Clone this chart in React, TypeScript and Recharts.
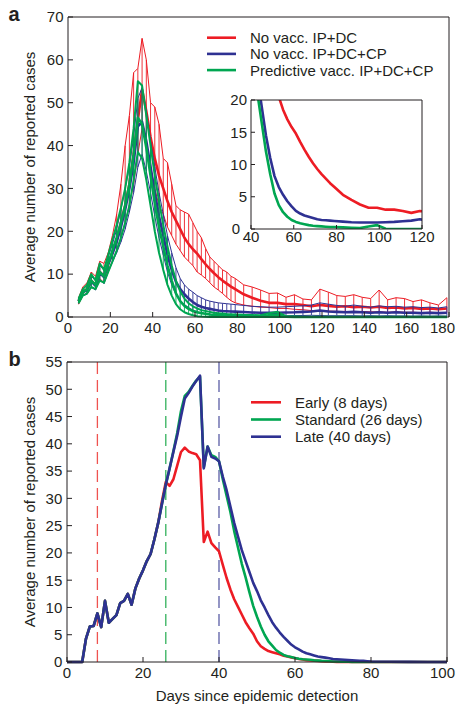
import React from 'react';
import { LineChart, Line, XAxis, YAxis, ErrorBar, ReferenceLine, Label, Legend, CartesianGrid } from 'recharts';

const FONT = '"Liberation Sans", Arial, Helvetica, sans-serif';
const INK = '#231f20';
const RED = '#ed1c24';
const BLUE = '#2e3192';
const GREEN = '#00a651';

// ---------- Panel a data ----------
const daysA = [5,7,9,11,13,15,17,19,21,23,25,27,29,31,33,35,37,39,41,43,45,47,49,51,53,55,57,59,61,63,65,67,69,71,73,75,77,79,83,87,91,95,99,103,107,111,115,119,123,127,131,135,139,143,147,151,155,159,163,167,171,175,179];

const redMean = [3.7,5.8,6.5,8.5,7.5,10.5,9.5,12.5,15,18,22,26,31,38,46,53,48,42,37,33,30,27,24.5,22.5,20.5,18.5,17,15.8,14.8,13.5,12.3,11.2,10.2,9.3,8.5,7.8,7.1,6.5,5.3,4.5,3.8,3.3,3.3,3.0,3.0,2.8,2.5,2.8,2.6,2.4,2.5,2.3,2.4,2.2,2.4,2.1,2.2,2.0,2.1,1.9,2.0,1.8,2.0];
const redHi = [4.5,7,8,10.5,9.5,13,12.5,15,19,24,31,40,47,57,58,65,60,50,49,45,37,36,31,26,25,24.5,24,22,20,18.5,16,14,13,12,11,10.5,9.5,9,7.5,7,6.3,5.5,5.6,4.6,5.2,4.2,4.0,6.5,5.8,5.0,4.8,5.2,4.6,4.3,6.3,4.0,4.5,4.3,3.6,4.0,3.3,2.8,4.5];
const redLo = [3.0,5,5.5,7,6.5,9,8,11,13,15.5,18.5,22,26,31,38,44,40,35,30,26,24,21,19,17,15.5,14,13,12,10.5,9.8,9,8,7,6.3,5.5,4.6,3.8,3.3,2.8,2.5,2.3,2.2,2.0,2.0,1.8,1.7,1.5,1.4,1.4,1.3,1.3,1.2,1.3,1.2,1.2,1.1,1.2,1.1,1.1,1.0,1.1,1.0,1.0];

const blueMean = [3.7,5.8,6.3,8.3,7.3,10.3,9.3,12.3,14.8,17.5,21,25,30,36,44.5,45.5,41,35,29,23.5,19,14.5,11,8.2,6.5,5.3,4.3,3.5,2.8,2.4,2.1,1.9,1.7,1.5,1.4,1.35,1.3,1.25,1.15,1.05,1.0,1.0,1.0,1.05,1.1,1.2,1.3,1.5,1.3,1.2,1.1,1.2,1.1,1.0,1.1,1.0,1.1,1.0,1.0,0.9,1.0,0.9,1.0];
const blueHi = [4.3,6.5,7.5,9.5,8.5,12,11,14,17,20.5,25,30,35,42,51,53.5,48,41,35,29,24,19,15,11.5,9,7.5,6.5,5.8,5,4.5,4.0,3.7,3.5,3.3,3.2,3.1,3.0,2.9,2.7,2.5,2.4,2.3,2.3,2.4,2.5,2.6,2.8,3.3,3.0,2.7,2.5,2.8,2.5,2.3,2.6,2.4,2.5,2.3,2.4,2.2,2.3,2.1,2.4];
const blueLo = [3.2,5,5.3,7,6.3,8.8,7.8,10.5,12.8,15,17.5,20.5,24.5,29,35,38,34,29,23.5,18.5,14.5,10.5,7.5,5.2,3.8,2.9,2.2,1.6,1.2,0.9,0.7,0.6,0.5,0.45,0.4,0.4,0.35,0.35,0.3,0.3,0.3,0.3,0.3,0.3,0.35,0.35,0.4,0.35,0.3,0.3,0.3,0.3,0.25,0.3,0.25,0.3,0.25,0.25,0.2,0.25,0.2,0.25,0.2];

const greenMean = [3.7,5.8,6.5,8.5,7.5,10.5,9.5,12.5,15.5,18.5,22,26,31,38,46.5,45,39.5,33,26.5,21,16.5,12,8.5,5.5,3.7,2.6,1.9,1.4,1.1,0.9,0.75,0.6,0.5,0.45,0.4,0.35,0.3,0.3,0.25,0.2,0.15,0.4,0.6,0.05,0,0,0,0,0,0,0,0,0,0,0,0,0,0,0,0,0,0,0];
const greenHi = [4.3,6.5,7.5,10,8.5,12.5,11,14.5,18,21.5,25.5,30,36,44,55,54,47,40,33,27,21.5,16.5,12,8.5,6,4.3,3.2,2.5,2.0,1.6,1.4,1.2,1.0,0.9,0.8,0.7,0.65,0.6,0.5,0.45,0.4,0.9,1.2,0.2,0.1,0,0,0,0,0,0,0,0,0,0,0,0,0,0,0,0,0,0];
const greenLo = [3.2,5,5.5,7,6.5,8.5,8,10.5,13,15.5,18.5,22,26,32,38.5,37,32,26,20,15,11,7.5,5,3,1.8,1.1,0.7,0.4,0.2,0.1,0.05,0,0,0,0,0,0,0,0,0,0,0,0,0,0,0,0,0,0,0,0,0,0,0,0,0,0,0,0,0,0,0,0];

// ---------- Panel b data ----------
const daysB = [0,1,2,3,4,5,6,7,8,9,10,11,12,13,14,15,16,17,18,19,20,21,22,23,24,25,26,27,28,29,30,31,32,33,34,35,36,37,38,39,40,41,42,43,44,45,46,47,48,49,50,51,52,53,54,55,56,57,58,59,60,61,62,63,64,65,66,67,68,69,70,71,72,73,74,75,76,77,78,79,80,85,90,95,100];
const earlyB = [0,0,0,0,0,4.3,6.5,6.6,8.9,6.4,11.2,7.2,7.9,8.6,10.8,11.2,12.5,10.5,13.5,15.3,16.8,18.5,19.8,22.5,25.5,29.5,33,32.3,33.5,36,38.5,39.3,38.6,38.3,38.1,37,22,23.9,21.8,21,20.3,17.8,15.4,13.3,11.5,10.1,8.7,7.3,6.2,5.2,3.8,2.9,2.4,2.0,1.8,1.6,1.4,1.15,1.0,0.85,0.7,0.55,0.45,0.35,0.3,0.25,0.2,0.15,0.1,0.08,0.05,0.03,0,0,0,0,0,0,0,0,0,0,0,0,0];
const standardB = [0,0,0,0,0,4.3,6.5,6.6,8.9,6.4,11.2,7.2,7.9,8.6,10.8,11.2,12.5,10.5,13.5,15.3,16.8,18.5,19.8,22.5,25.5,29,32.5,35.5,38.7,42,46,48.8,49.5,50.6,51.6,52.3,35.7,39.5,37.9,37.6,36.8,33.5,30.5,27.5,24,21,18,15.5,12.8,10.3,8.3,6.5,5,3.8,3,2.2,1.7,1.3,1.05,0.9,0.75,0.6,0.5,0.45,0.4,0.3,0.25,0.2,0.18,0.15,0.1,0.08,0.06,0.05,0.04,0.03,0.02,0.02,0.01,0,0,0,0,0,0];
const lateB = [0,0,0,0,0,4.3,6.5,6.6,8.9,6.4,11.2,7.2,7.9,8.6,10.8,11.2,12.5,10.5,13.5,15.3,16.8,18.5,19.8,22.5,25.5,29,32.5,35.5,38.5,41.5,45,48.3,49.3,50.5,51.5,52.5,35.5,39.5,37.6,37.3,36.8,34,31.5,28.5,25.5,23,20.5,18.5,16.5,14.5,13,11.3,10,8.6,7.3,6.3,5.4,4.6,3.9,3.2,2.7,2.3,1.9,1.6,1.4,1.2,1.0,0.9,0.8,0.7,0.55,0.5,0.45,0.4,0.35,0.3,0.25,0.2,0.2,0.15,0.1,0.05,0.02,0,0];

// ---------- ticks, labels ----------
const ticksAX = [0,20,40,60,80,100,120,140,160,180];
const ticksAY = [0,10,20,30,40,50,60,70];
const ticksInsetX = [40,60,80,100,120];
const ticksInsetY = [0,5,10,15,20];
const ticksBX = [0,20,40,60,80,100];
const ticksBY = [0,5,10,15,20,25,30,35,40,45,50,55];
const detectDays = [8, 26, 40];
const detectColors = ['#ef5350', '#33b15c', '#5b5ea6'];

const legendA = [
  { label: 'No vacc. IP+DC', color: RED },
  { label: 'No vacc. IP+DC+CP', color: BLUE },
  { label: 'Predictive vacc. IP+DC+CP', color: GREEN },
];
const legendB = [
  { label: 'Early (8 days)', color: RED },
  { label: 'Standard (26 days)', color: GREEN },
  { label: 'Late (40 days)', color: BLUE },
];
const yTitleText = 'Average number of reported cases';
const xTitleText = 'Days since epidemic detection';

const rowsA = daysA.map((day, i) => ({
  day,
  rM: redMean[i], rHi: redHi[i], rLo: redLo[i], rE: [redMean[i] - redLo[i], redHi[i] - redMean[i]],
  bM: blueMean[i], bHi: blueHi[i], bLo: blueLo[i], bE: [blueMean[i] - blueLo[i], blueHi[i] - blueMean[i]],
  gM: greenMean[i], gHi: greenHi[i], gLo: greenLo[i], gE: [greenMean[i] - greenLo[i], greenHi[i] - greenMean[i]],
}));
const rowsB = daysB.map((day, i) => ({ day, early: earlyB[i], standard: standardB[i], late: lateB[i] }));

const tickStyle = { fill: INK, fontSize: 15, fontFamily: FONT };
const axisLine = { stroke: INK, strokeWidth: 1 };
const tickLine = { stroke: INK, strokeWidth: 1 };

const XTick = (props: any) => {
  const { x, y, payload, max, limit } = props;
  const last = payload.value === max;
  return (
    <text x={last ? limit : x} y={y} dy="0.71em" textAnchor={last ? 'end' : 'middle'} fill={INK} fontSize={15} fontFamily={FONT}>
      {payload.value}
    </text>
  );
};

// inset y tick: the bottom "0" is nudged left so it clears the "40" below it
const InsetYTick = (props: any) => {
  const { x, y, payload } = props;
  const nudge = payload.value === 0 ? -7 : 0;
  return (
    <text x={x + nudge} y={y} dy="0.355em" textAnchor="end" fill={INK} fontSize={15} fontFamily={FONT}>
      {payload.value}
    </text>
  );
};

const YTitle = ({ cx, cy }: { cx: number; cy: number }) => (
  <text x={cx} y={cy} transform={`rotate(-90 ${cx} ${cy})`} textAnchor="middle" fill={INK} fontSize={15} fontFamily={FONT}>
    {yTitleText}
  </text>
);

const LegendBox = ({ items, gap, lineX1, lineX2, textX, y0, w, h }: any) => (
  <svg width={w} height={h} style={{ display: 'block' }}>
    {items.map((it: any, i: number) => (
      <g key={it.label}>
        <line x1={lineX1} x2={lineX2} y1={y0 + i * gap} y2={y0 + i * gap} stroke={it.color} strokeWidth={2.6} />
        <text x={textX} y={y0 + i * gap + 5.4} fill={INK} fontSize={15} fontFamily={FONT}>{it.label}</text>
      </g>
    ))}
  </svg>
);

const lineCommon = { type: 'linear' as const, dot: false, activeDot: false, isAnimationActive: false, strokeLinejoin: 'round' as const };

export default function App() {
  return (
    <div style={{ position: 'absolute', left: 0, top: 0, width: 456, height: 705, background: '#fff', fontFamily: FONT }}>
      {/* Panel a */}
      <div style={{ position: 'absolute', left: 0, top: 0 }}>
        <LineChart width={456} height={345} data={rowsA} margin={{ top: 16, right: 6, bottom: 27, left: 67 }}>
          <XAxis dataKey="day" type="number" domain={[0, 180]} ticks={ticksAX} interval={0} height={1} tickSize={-5} tickMargin={10}
            axisLine={axisLine} tickLine={tickLine} tick={(p: any) => <XTick {...p} max={180} limit={455} />} />
          <XAxis xAxisId="top" orientation="top" type="number" domain={[0, 180]} allowDataOverflow ticks={ticksAX} interval={0} height={1}
            tickSize={-5} axisLine={axisLine} tickLine={tickLine} tick={false} />
          <YAxis type="number" domain={[0, 70]} ticks={ticksAY} interval={0} width={1} tickSize={-5} tickMargin={9.5}
            axisLine={axisLine} tickLine={tickLine} tick={tickStyle}>
            <Label content={() => <YTitle cx={35} cy={167} />} />
          </YAxis>
          <YAxis yAxisId="r" orientation="right" type="number" domain={[0, 70]} allowDataOverflow ticks={ticksAY} interval={0} width={1}
            tickSize={-5} axisLine={axisLine} tickLine={tickLine} tick={false} />

          <Line {...lineCommon} dataKey="rHi" stroke={RED} strokeWidth={1} />
          <Line {...lineCommon} dataKey="rLo" stroke={RED} strokeWidth={1} />
          <Line {...lineCommon} dataKey="rM" stroke={RED} strokeWidth={2.6}>
            <ErrorBar dataKey="rE" direction="y" width={0} stroke={RED} strokeWidth={0.9} />
          </Line>
          <Line {...lineCommon} dataKey="bHi" stroke={BLUE} strokeWidth={1} />
          <Line {...lineCommon} dataKey="bLo" stroke={BLUE} strokeWidth={1} />
          <Line {...lineCommon} dataKey="bM" stroke={BLUE} strokeWidth={2.6}>
            <ErrorBar dataKey="bE" direction="y" width={0} stroke={BLUE} strokeWidth={0.9} />
          </Line>
          <Line {...lineCommon} dataKey="gHi" stroke={GREEN} strokeWidth={2} />
          <Line {...lineCommon} dataKey="gLo" stroke={GREEN} strokeWidth={2} />
          <Line {...lineCommon} dataKey="gM" stroke={GREEN} strokeWidth={2.6}>
            <ErrorBar dataKey="gE" direction="y" width={0} stroke={GREEN} strokeWidth={0.9} />
          </Line>
          <Legend layout="horizontal" verticalAlign="middle" align="center"
            wrapperStyle={{ position: 'absolute', left: 200, top: 28, width: 256, height: 52 }}
            content={() => <LegendBox items={legendA} gap={16.2} lineX1={7} lineX2={36} textX={50} y0={9.7} w={256} h={52} />} />
        </LineChart>
      </div>

      {/* Inset */}
      <div style={{ position: 'absolute', left: 215, top: 90 }}>
        <LineChart width={235} height={160} data={rowsA} margin={{ top: 9, right: 27, bottom: 20, left: 35 }}>
          <CartesianGrid horizontal={false} vertical={false} fill="#ffffff" />
          <XAxis dataKey="day" type="number" domain={[40, 120]} allowDataOverflow ticks={ticksInsetX} interval={0} height={1}
            tickSize={-4} tickMargin={6} axisLine={axisLine} tickLine={tickLine} tick={tickStyle} />
          <XAxis xAxisId="top" orientation="top" type="number" domain={[40, 120]} allowDataOverflow ticks={ticksInsetX} interval={0} height={1}
            tickSize={-4} axisLine={axisLine} tickLine={tickLine} tick={false} />
          <YAxis type="number" domain={[0, 20]} allowDataOverflow ticks={ticksInsetY} interval={0} width={1} tickSize={-4} tickMargin={8}
            axisLine={axisLine} tickLine={tickLine} tick={(p: any) => <InsetYTick {...p} />} />
          <YAxis yAxisId="r" orientation="right" type="number" domain={[0, 20]} allowDataOverflow ticks={ticksInsetY} interval={0} width={1}
            tickSize={-4} axisLine={axisLine} tickLine={tickLine} tick={false} />
          <Line {...lineCommon} dataKey="rM" stroke={RED} strokeWidth={2.6} />
          <Line {...lineCommon} dataKey="bM" stroke={BLUE} strokeWidth={2.6} />
          <Line {...lineCommon} dataKey="gM" stroke={GREEN} strokeWidth={2.6} />
        </LineChart>
      </div>

      {/* Panel b */}
      <div style={{ position: 'absolute', left: 0, top: 345 }}>
        <LineChart width={456} height={360} data={rowsB} margin={{ top: 16, right: 8, bottom: 42, left: 66 }}>
          <XAxis dataKey="day" type="number" domain={[0, 100]} ticks={ticksBX} interval={0} height={1} tickSize={-5} tickMargin={10}
            axisLine={axisLine} tickLine={tickLine} tick={(p: any) => <XTick {...p} max={100} limit={455} />}>
            <Label content={() => (
              <text x={257} y={356} textAnchor="middle" fill={INK} fontSize={15} fontFamily={FONT}>{xTitleText}</text>
            )} />
          </XAxis>
          <XAxis xAxisId="top" orientation="top" type="number" domain={[0, 100]} allowDataOverflow ticks={ticksBX} interval={0} height={1}
            tickSize={-5} axisLine={axisLine} tickLine={tickLine} tick={false} />
          <YAxis type="number" domain={[0, 55]} ticks={ticksBY} interval={0} width={1} tickSize={-5} tickMargin={9.7}
            axisLine={axisLine} tickLine={tickLine} tick={tickStyle}>
            <Label content={() => <YTitle cx={35} cy={167} />} />
          </YAxis>
          <YAxis yAxisId="r" orientation="right" type="number" domain={[0, 55]} allowDataOverflow ticks={ticksBY} interval={0} width={1}
            tickSize={-5} axisLine={axisLine} tickLine={tickLine} tick={false} />
          {detectDays.map((d, i) => (
            <ReferenceLine key={d} x={d} stroke={detectColors[i]} strokeWidth={1.3} strokeDasharray="12 6" />
          ))}
          <Line {...lineCommon} dataKey="early" stroke={RED} strokeWidth={2.6} />
          <Line {...lineCommon} dataKey="standard" stroke={GREEN} strokeWidth={2.6} />
          <Line {...lineCommon} dataKey="late" stroke={BLUE} strokeWidth={2.6} />
          <Legend layout="horizontal" verticalAlign="middle" align="center"
            wrapperStyle={{ position: 'absolute', left: 245, top: 45, width: 211, height: 60 }}
            content={() => <LegendBox items={legendB} gap={17.2} lineX1={6} lineX2={36} textX={50} y0={12.3} w={211} h={60} />} />
        </LineChart>
      </div>

      {/* Panel letters */}
      <svg width={456} height={705} style={{ position: 'absolute', left: 0, top: 0, pointerEvents: 'none' }}>
        <text x={8.5} y={21} fontSize={20} fontWeight="bold" fill={INK} fontFamily={FONT}>a</text>
        <text x={8.5} y={366} fontSize={20} fontWeight="bold" fill={INK} fontFamily={FONT}>b</text>
      </svg>
    </div>
  );
}
